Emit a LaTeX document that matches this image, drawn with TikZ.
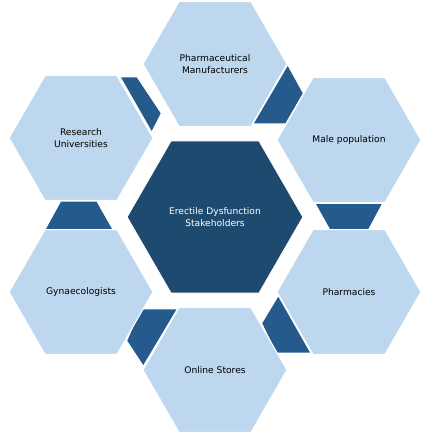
\documentclass[tikz,border=0pt]{standalone}
\usepackage{fontspec}
\setsansfont{DejaVu Sans}
\usepackage{tikz}
\usetikzlibrary{shapes.geometric,positioning}
\definecolor{hexlight}{HTML}{BDD7EE}
\definecolor{hubdark}{HTML}{1F4A70}
\definecolor{linkblue}{HTML}{245A8C}
\tikzset{
  outerhex/.style={
    regular polygon, regular polygon sides=6, minimum size=4.32cm,
    inner sep=0pt, draw=white, line width=0.9pt, align=center,
    font=\sffamily\fontsize{7.8}{10.2}\selectfont, fill=hexlight, text=black
  },
  hubhex/.style={outerhex, minimum size=5.28cm, fill=hubdark, text=white},
  linkpiece/.style={fill=linkblue, draw=none}
}

\begin{document}
\begin{tikzpicture}[x=0.03cm,y=-0.03cm]
\useasboundingbox (0,0) rectangle (431,434);

% dark pieces between the outer hexagons (drawn first, hexagons sit on top)
\fill[linkpiece] (287.7,66) -- (302.7,93.3) -- (285.4,123.3) -- (254,123.3) -- cycle;
\fill[linkpiece] (121,77.3) -- (136.7,77.3) -- (160.7,113.3) -- (151.7,131) -- cycle;
\fill[linkpiece] (61,201.7) -- (96.5,201.7) -- (112,229) -- (46,229) -- cycle;
\fill[linkpiece] (316,204) -- (381.7,204) -- (368.3,229) -- (330,229) -- cycle;
\fill[linkpiece] (141,309.3) -- (176.5,309.3) -- (143.3,365) -- (127.3,340.7) -- cycle;
\fill[linkpiece] (278.3,296.7) -- (262.3,323.3) -- (276.7,352.7) -- (310,352.7) -- cycle;

\node[hubhex] (hub) at (215,217) {Erectile Dysfunction\\Stakeholders};
\node[outerhex] (manuf) at (215,64) {Pharmaceutical\\Manufacturers};
\node[outerhex] (male) at (349,140) {Male population};
\node[outerhex] (pharm) at (349,292) {Pharmacies};
\node[outerhex] (online) at (215,370) {Online Stores};
\node[outerhex] (gyn) at (81,292) {Gynaecologists};
\node[outerhex] (research) at (81,138) {Research\\Universities};
\end{tikzpicture}
\end{document}
